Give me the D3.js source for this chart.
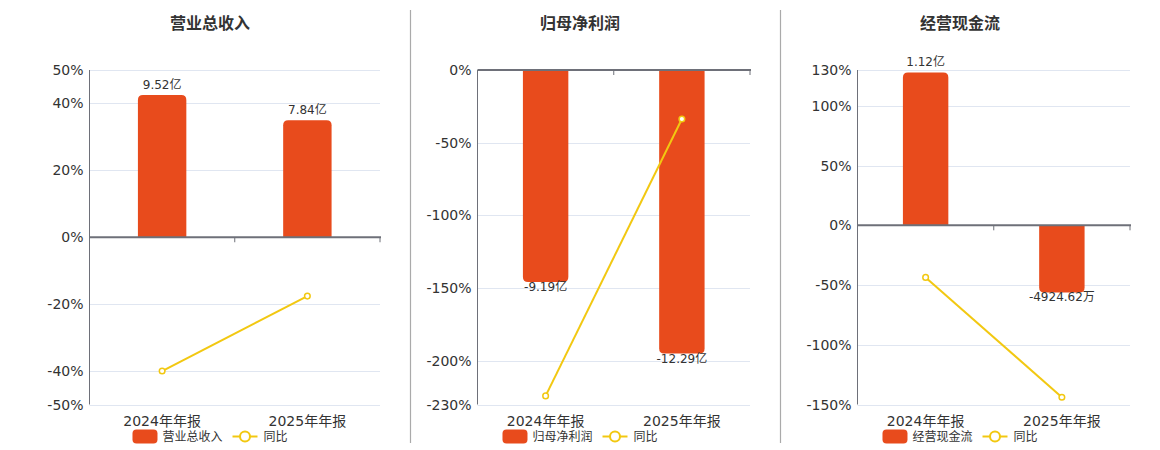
<!DOCTYPE html>
<html>
<head>
<meta charset="utf-8">
<script src="https://cdn.jsdelivr.net/npm/d3@7"></script>
<style>
  body { margin: 0; background: #fff; }
  svg text { font-family: "DejaVu Sans", "Noto Sans CJK SC", sans-serif; }
</style>
</head>
<body>
<div id="chart"></div>
<script>
// categories and panel titles
var categories = ["2024年年报", "2025年年报"];
var titles = ["营业总收入", "归母净利润", "经营现金流"];

// bar values (亿 / 万) and their labels
var revenueBars = [9.52, 7.84];
var profitBars = [-9.19, -12.29];
var cashBars = [11200, -4924.62];
var revenueLabels = ["9.52亿", "7.84亿"];
var profitLabels = ["-9.19亿", "-12.29亿"];
var cashLabels = ["1.12亿", "-4924.62万"];

// 同比 (%)
var revenueYoy = [-40.0, -17.6];
var profitYoy = [-224.1, -33.7];
var cashYoy = [-43.6, -143.97];

// percent axis ticks (first = max, last = min)
var revenueTicks = [50, 40, 20, 0, -20, -40, -50];
var profitTicks = [0, -50, -100, -150, -200, -230];
var cashTicks = [130, 100, 50, 0, -50, -100, -150];

// hidden bar axis extents, zero aligned with the percent axis
var revenueBarDomain = [-11.2, 11.2];
var profitBarDomain = [-14.5, 0];
var cashBarDomain = [-13140, 11390];

var barColor = "#E84B1C";
var lineColor = "#F2C811";
var W = 1160, H = 450;

var panels = [
  {title: titles[0], bars: revenueBars, labels: revenueLabels, yoy: revenueYoy, ticks: revenueTicks, barDomain: revenueBarDomain, left: 89.5, right: 380, center: 210},
  {title: titles[1], bars: profitBars, labels: profitLabels, yoy: profitYoy, ticks: profitTicks, barDomain: profitBarDomain, left: 477.5, right: 750, center: 580},
  {title: titles[2], bars: cashBars, labels: cashLabels, yoy: cashYoy, ticks: cashTicks, barDomain: cashBarDomain, left: 857.5, right: 1130, center: 960}
];

var svg = d3.select("#chart").append("svg")
  .attr("width", W)
  .attr("height", H);

// dividers
[410.5, 780.5].forEach(function (x) {
  svg.append("line")
    .attr("x1", x).attr("x2", x)
    .attr("y1", 10).attr("y2", 443)
    .attr("stroke", "#aaa").attr("stroke-width", 1.2);
});

var plotTop = 70, plotBottom = 404.5;

function barPath(x0, w, y0, y1, r) {
  // rounded at the far end (y1), square at the baseline (y0)
  var dir = y1 < y0 ? 1 : -1;
  r = Math.min(r, Math.abs(y0 - y1) / 2);
  return "M" + x0 + "," + y0 +
    "L" + x0 + "," + (y1 + dir * r) +
    "Q" + x0 + "," + y1 + " " + (x0 + r) + "," + y1 +
    "L" + (x0 + w - r) + "," + y1 +
    "Q" + (x0 + w) + "," + y1 + " " + (x0 + w) + "," + (y1 + dir * r) +
    "L" + (x0 + w) + "," + y0 + "Z";
}

panels.forEach(function (p) {
  var g = svg.append("g");
  var pMax = p.ticks[0], pMin = p.ticks[p.ticks.length - 1];

  var x = d3.scaleBand().domain(categories).range([p.left, p.right]);
  var y = d3.scaleLinear().domain([pMin, pMax]).range([plotBottom, plotTop]);
  var yb = d3.scaleLinear().domain(p.barDomain).range([plotBottom, plotTop]);

  // title
  g.append("text")
    .attr("x", p.center).attr("y", 29)
    .attr("text-anchor", "middle")
    .attr("font-size", 16).attr("font-weight", "bold")
    .attr("fill", "#333")
    .text(p.title);

  // grid lines
  g.selectAll(".grid").data(p.ticks).enter().append("line")
    .attr("x1", p.left).attr("x2", p.right)
    .attr("y1", function (d) { return Math.round(y(d)) + 0.5; })
    .attr("y2", function (d) { return Math.round(y(d)) + 0.5; })
    .attr("stroke", "#E0E6F1").attr("stroke-width", 1);

  // y tick labels
  g.selectAll(".ylab").data(p.ticks).enter().append("text")
    .attr("x", p.left - 6)
    .attr("y", function (d) { return y(d); })
    .attr("dy", "0.36em")
    .attr("text-anchor", "end")
    .attr("font-size", 14)
    .attr("fill", "#333")
    .text(function (d) { return d + "%"; });

  // bars
  var bw = x.bandwidth() / 3;
  g.selectAll(".bar").data(p.bars).enter().append("path")
    .attr("d", function (d, i) {
      var cx = x(categories[i]) + x.bandwidth() / 2;
      return barPath(cx - bw / 2, bw, yb(0), yb(d), 5);
    })
    .attr("fill", barColor);

  // bar labels
  g.selectAll(".blab").data(p.bars).enter().append("text")
    .attr("x", function (d, i) { return x(categories[i]) + x.bandwidth() / 2; })
    .attr("y", function (d) { return d >= 0 ? yb(d) - 6.3 : yb(d) + 9; })
    .attr("text-anchor", "middle")
    .attr("font-size", 12)
    .attr("fill", "#333")
    .text(function (d, i) { return p.labels[i]; });

  // left axis line
  g.append("line")
    .attr("x1", p.left).attr("x2", p.left)
    .attr("y1", plotTop).attr("y2", plotBottom)
    .attr("stroke", "#6E7079").attr("stroke-width", 1);

  // category axis at zero
  var z = y(0);
  g.append("line")
    .attr("x1", p.left).attr("x2", p.right + 1)
    .attr("y1", z).attr("y2", z)
    .attr("stroke", "#6E7079").attr("stroke-width", 2);
  var tickXs = categories.map(function (c) { return x(c); }).concat([p.right]);
  g.selectAll(".xtick").data(tickXs).enter().append("line")
    .attr("x1", function (d) { return d; }).attr("x2", function (d) { return d; })
    .attr("y1", z).attr("y2", z + 5)
    .attr("stroke", "#6E7079").attr("stroke-width", 1);

  // x labels at the bottom
  g.selectAll(".xlab").data(categories).enter().append("text")
    .attr("x", function (d) { return x(d) + x.bandwidth() / 2; })
    .attr("y", 425.5)
    .attr("text-anchor", "middle")
    .attr("font-size", 14)
    .attr("fill", "#333")
    .text(function (d) { return d; });

  // 同比 line
  var line = d3.line()
    .x(function (d, i) { return x(categories[i]) + x.bandwidth() / 2; })
    .y(function (d) { return y(d); });
  g.append("path")
    .datum(p.yoy)
    .attr("d", line)
    .attr("fill", "none")
    .attr("stroke", lineColor).attr("stroke-width", 2);
  g.selectAll(".pt").data(p.yoy).enter().append("circle")
    .attr("cx", function (d, i) { return x(categories[i]) + x.bandwidth() / 2; })
    .attr("cy", function (d) { return y(d); })
    .attr("r", 2.8)
    .attr("fill", "#fff")
    .attr("stroke", lineColor).attr("stroke-width", 1.5);

  // legend
  var lg = g.append("g");
  var ly = 436.5;
  lg.append("rect")
    .attr("x", 0).attr("y", ly - 7)
    .attr("width", 25).attr("height", 14)
    .attr("rx", 4)
    .attr("fill", barColor);
  var t1 = lg.append("text")
    .attr("x", 30).attr("y", ly).attr("dy", "0.36em")
    .attr("font-size", 12).attr("fill", "#333")
    .text(p.title);
  var x2 = 30 + t1.node().getComputedTextLength() + 10;
  lg.append("line")
    .attr("x1", x2).attr("x2", x2 + 25)
    .attr("y1", ly).attr("y2", ly)
    .attr("stroke", lineColor).attr("stroke-width", 2);
  lg.append("circle")
    .attr("cx", x2 + 12.5).attr("cy", ly).attr("r", 5)
    .attr("fill", "#fff").attr("stroke", lineColor).attr("stroke-width", 2);
  var t2 = lg.append("text")
    .attr("x", x2 + 31).attr("y", ly).attr("dy", "0.36em")
    .attr("font-size", 12).attr("fill", "#333")
    .text("同比");
  var total = x2 + 31 + t2.node().getComputedTextLength();
  lg.attr("transform", "translate(" + (p.center - total / 2) + ",0)");
});
</script>
</body>
</html>
